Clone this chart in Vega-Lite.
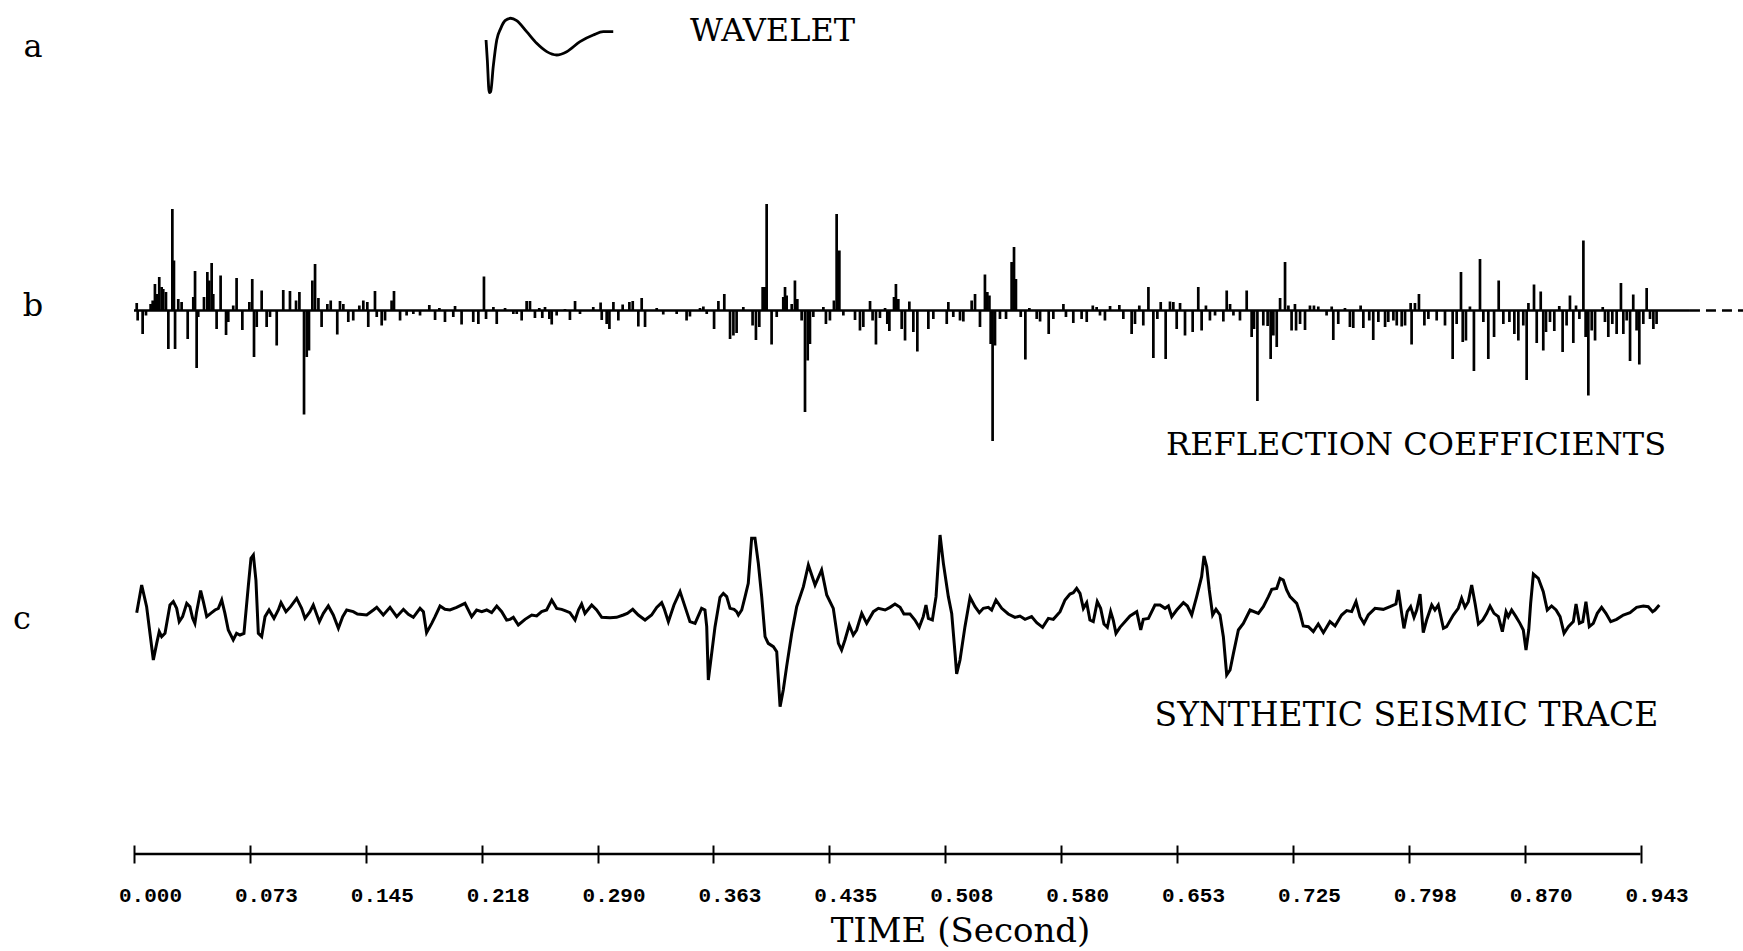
{
  "$schema": "https://vega.github.io/schema/vega-lite/v6.json",
  "width": 1743,
  "height": 951,
  "padding": 0,
  "autosize": {"type": "none"},
  "background": "white",
  "config": {"view": {"stroke": null}, "font": "DejaVu Serif"},
  "datasets": {
    "wavelet": [
      {"t": 0.2203, "w": 0}, {"t": 0.2211, "w": -0.377}, {"t": 0.2223, "w": -0.994}, {"t": 0.2232, "w": -0.975},
      {"t": 0.2248, "w": -0.503}, {"t": 0.2270, "w": 0}, {"t": 0.2295, "w": 0.22}, {"t": 0.2322, "w": 0.365},
      {"t": 0.2357, "w": 0.41}, {"t": 0.2395, "w": 0.365}, {"t": 0.2457, "w": 0.157}, {"t": 0.2520, "w": -0.063},
      {"t": 0.2583, "w": -0.22}, {"t": 0.2645, "w": -0.283}, {"t": 0.2708, "w": -0.22}, {"t": 0.2791, "w": -0.031},
      {"t": 0.2874, "w": 0.094}, {"t": 0.2937, "w": 0.157}, {"t": 0.2999, "w": 0.157}
    ],
    "wave_letter": [{"t": -0.0632, "w": -0.13, "label": "a"}],
    "wave_caption": [{"t": 0.3996, "w": 0.17, "label": "WAVELET"}],
    "refl": [
      {"t":0.0017,"r":0.015},{"t":0.0023,"r":-0.02},{"t":0.0054,"r":-0.047},{"t":0.0075,"r":-0.01},{"t":0.0104,"r":0.013},
      {"t":0.0117,"r":0.02},{"t":0.0131,"r":0.053},{"t":0.0142,"r":0.033},{"t":0.0158,"r":0.067},{"t":0.0173,"r":0.047},
      {"t":0.0183,"r":0.043},{"t":0.0200,"r":0.037},{"t":0.0215,"r":-0.077},{"t":0.0240,"r":0.203},{"t":0.0250,"r":0.1},
      {"t":0.0257,"r":-0.077},{"t":0.0277,"r":0.023},{"t":0.0298,"r":0.017},{"t":0.0336,"r":-0.057},{"t":0.0371,"r":0.027},
      {"t":0.0382,"r":0.079},{"t":0.0392,"r":-0.115},{"t":0.0402,"r":-0.013},{"t":0.0438,"r":0.027},{"t":0.0459,"r":0.077},
      {"t":0.0471,"r":0.06},{"t":0.0486,"r":0.095},{"t":0.0496,"r":0.033},{"t":0.0517,"r":-0.037},{"t":0.0542,"r":0.07},
      {"t":0.0576,"r":-0.049},{"t":0.0590,"r":-0.023},{"t":0.0621,"r":0.01},{"t":0.0642,"r":0.065},{"t":0.0678,"r":-0.039},
      {"t":0.0722,"r":0.017},{"t":0.0740,"r":0.063},{"t":0.0751,"r":-0.093},{"t":0.0768,"r":-0.033},{"t":0.0799,"r":0.04},
      {"t":0.0830,"r":-0.033},{"t":0.0851,"r":-0.013},{"t":0.0893,"r":-0.07},{"t":0.0934,"r":0.041},{"t":0.0976,"r":0.039},
      {"t":0.1014,"r":0.02},{"t":0.1035,"r":0.037},{"t":0.1064,"r":-0.208},{"t":0.1081,"r":-0.093},{"t":0.1095,"r":-0.08},
      {"t":0.1116,"r":0.06},{"t":0.1133,"r":0.093},{"t":0.1154,"r":0.025},{"t":0.1174,"r":-0.033},{"t":0.1210,"r":0.013},
      {"t":0.1231,"r":0.02},{"t":0.1272,"r":-0.048},{"t":0.1289,"r":0.019},{"t":0.1310,"r":0.013},{"t":0.1341,"r":-0.023},
      {"t":0.1372,"r":-0.02},{"t":0.1410,"r":0.01},{"t":0.1435,"r":0.02},{"t":0.1460,"r":0.017},{"t":0.1466,"r":-0.033},
      {"t":0.1508,"r":0.039},{"t":0.1519,"r":-0.013},{"t":0.1550,"r":-0.03},{"t":0.1571,"r":-0.02},{"t":0.1612,"r":0.02},
      {"t":0.1627,"r":0.039},{"t":0.1665,"r":-0.02},{"t":0.1706,"r":-0.01},{"t":0.1748,"r":-0.007},{"t":0.1790,"r":-0.01},
      {"t":0.1848,"r":0.011},{"t":0.1884,"r":-0.019},{"t":0.1911,"r":0.005},{"t":0.1946,"r":-0.023},{"t":0.1998,"r":-0.013},
      {"t":0.2009,"r":0.009},{"t":0.2050,"r":-0.028},{"t":0.2123,"r":-0.023},{"t":0.2155,"r":-0.027},{"t":0.2190,"r":0.068},
      {"t":0.2203,"r":-0.017},{"t":0.2249,"r":0.007},{"t":0.2270,"r":-0.027},{"t":0.2322,"r":0.005},{"t":0.2395,"r":-0.007},
      {"t":0.2374,"r":-0.007},{"t":0.2426,"r":-0.02},{"t":0.2457,"r":0.019},{"t":0.2478,"r":0.019},{"t":0.2509,"r":-0.015},
      {"t":0.2536,"r":0.005},{"t":0.2555,"r":-0.015},{"t":0.2572,"r":0.007},{"t":0.2599,"r":-0.017},{"t":0.2614,"r":-0.028},
      {"t":0.2645,"r":-0.01},{"t":0.2697,"r":0.003},{"t":0.2728,"r":-0.019},{"t":0.2760,"r":0.019},{"t":0.2791,"r":-0.007},
      {"t":0.2874,"r":0.007},{"t":0.2920,"r":0.016},{"t":0.2927,"r":-0.019},{"t":0.2958,"r":-0.027},{"t":0.2975,"r":-0.037},
      {"t":0.3000,"r":0.017},{"t":0.3031,"r":-0.02},{"t":0.3058,"r":0.012},{"t":0.3100,"r":0.017},{"t":0.3121,"r":0.019},
      {"t":0.3156,"r":-0.032},{"t":0.3177,"r":0.025},{"t":0.3198,"r":-0.033},{"t":0.3271,"r":0.005},{"t":0.3312,"r":-0.008},
      {"t":0.3396,"r":-0.007},{"t":0.3458,"r":-0.02},{"t":0.3479,"r":-0.012},{"t":0.3542,"r":0.005},{"t":0.3563,"r":0.008},
      {"t":0.3584,"r":-0.007},{"t":0.3630,"r":-0.037},{"t":0.3657,"r":0.019},{"t":0.3694,"r":0.033},{"t":0.3730,"r":-0.057},
      {"t":0.3751,"r":-0.05},{"t":0.3771,"r":-0.045},{"t":0.3813,"r":0.007},{"t":0.3871,"r":-0.03},{"t":0.3892,"r":-0.059},
      {"t":0.3913,"r":-0.033},{"t":0.3934,"r":0.047},{"t":0.3949,"r":0.047},{"t":0.3959,"r":0.213},{"t":0.3990,"r":-0.068},
      {"t":0.4022,"r":-0.013},{"t":0.4063,"r":0.027},{"t":0.4074,"r":0.047},{"t":0.4084,"r":0.03},{"t":0.4116,"r":0.013},
      {"t":0.4136,"r":0.06},{"t":0.4151,"r":0.023},{"t":0.4178,"r":-0.02},{"t":0.4199,"r":-0.203},{"t":0.4216,"r":-0.1},
      {"t":0.4230,"r":-0.067},{"t":0.4251,"r":-0.013},{"t":0.4314,"r":0.007},{"t":0.4330,"r":-0.027},{"t":0.4355,"r":-0.02},
      {"t":0.4380,"r":0.02},{"t":0.4397,"r":0.193},{"t":0.4414,"r":0.12},{"t":0.4439,"r":-0.01},{"t":0.4512,"r":-0.019},
      {"t":0.4543,"r":-0.04},{"t":0.4564,"r":-0.033},{"t":0.4606,"r":0.019},{"t":0.4622,"r":-0.02},{"t":0.4643,"r":-0.068},
      {"t":0.4668,"r":-0.015},{"t":0.4700,"r":0.005},{"t":0.4714,"r":-0.027},{"t":0.4727,"r":-0.041},{"t":0.4756,"r":0.027},
      {"t":0.4768,"r":0.053},{"t":0.4783,"r":0.023},
      {"t":0.4804,"r":-0.037},{"t":0.4825,"r":-0.06},{"t":0.4852,"r":0.018},{"t":0.4877,"r":-0.043},{"t":0.4902,"r":-0.082},
      {"t":0.4971,"r":-0.037},{"t":0.5002,"r":-0.017},{"t":0.5086,"r":-0.027},{"t":0.5096,"r":0.017},{"t":0.5127,"r":-0.013},
      {"t":0.5169,"r":-0.02},{"t":0.5190,"r":-0.022},{"t":0.5242,"r":0.02},{"t":0.5263,"r":0.033},{"t":0.5294,"r":-0.033},
      {"t":0.5325,"r":0.072},{"t":0.5340,"r":0.037},{"t":0.5353,"r":0.03},{"t":0.5361,"r":-0.067},{"t":0.5373,"r":-0.261},
      {"t":0.5388,"r":-0.07},{"t":0.5419,"r":-0.017},{"t":0.5457,"r":-0.017},{"t":0.5492,"r":0.097},{"t":0.5507,"r":0.127},
      {"t":0.5519,"r":0.063},{"t":0.5549,"r":-0.013},{"t":0.5578,"r":-0.098},{"t":0.5603,"r":0.005},{"t":0.5649,"r":-0.017},
      {"t":0.5670,"r":-0.022},{"t":0.5724,"r":-0.047},{"t":0.5753,"r":-0.017},{"t":0.5816,"r":0.013},{"t":0.5832,"r":-0.013},
      {"t":0.5878,"r":-0.025},{"t":0.5930,"r":-0.017},{"t":0.5962,"r":-0.023},{"t":0.6000,"r":0.01},{"t":0.6024,"r":0.007},
      {"t":0.6045,"r":-0.01},{"t":0.6076,"r":-0.02},{"t":0.6108,"r":0.009},{"t":0.6166,"r":0.011},{"t":0.6191,"r":-0.017},
      {"t":0.6243,"r":-0.047},{"t":0.6264,"r":-0.027},{"t":0.6291,"r":0.01},{"t":0.6316,"r":-0.03},{"t":0.6348,"r":0.047},
      {"t":0.6379,"r":-0.095},{"t":0.6404,"r":-0.017},{"t":0.6425,"r":0.017},{"t":0.6456,"r":-0.097},{"t":0.6483,"r":0.018},
      {"t":0.6504,"r":0.017},{"t":0.6525,"r":-0.037},{"t":0.6546,"r":0.015},{"t":0.6577,"r":-0.05},{"t":0.6625,"r":-0.043},
      {"t":0.6660,"r":0.047},{"t":0.6681,"r":-0.04},{"t":0.6708,"r":0.01},{"t":0.6733,"r":-0.02},{"t":0.6765,"r":-0.01},
      {"t":0.6817,"r":-0.022},{"t":0.6838,"r":0.04},{"t":0.6859,"r":0.013},{"t":0.6880,"r":-0.01},{"t":0.6921,"r":-0.02},
      {"t":0.6963,"r":0.04},{"t":0.6994,"r":-0.053},{"t":0.7009,"r":-0.037},{"t":0.7030,"r":-0.181},{"t":0.7067,"r":-0.03},
      {"t":0.7094,"r":-0.031},{"t":0.7113,"r":-0.097},{"t":0.7130,"r":-0.05},{"t":0.7151,"r":-0.073},{"t":0.7172,"r":0.025},
      {"t":0.7203,"r":0.097},{"t":0.7224,"r":0.01},
      {"t":0.7244,"r":-0.04},{"t":0.7265,"r":0.013},{"t":0.7272,"r":-0.04},{"t":0.7297,"r":-0.027},{"t":0.7328,"r":-0.039},
      {"t":0.7359,"r":0.01},{"t":0.7384,"r":0.01},{"t":0.7411,"r":0.008},{"t":0.7463,"r":-0.01},{"t":0.7495,"r":0.008},
      {"t":0.7505,"r":-0.059},{"t":0.7536,"r":-0.027},{"t":0.7578,"r":0.005},{"t":0.7609,"r":-0.033},{"t":0.7630,"r":-0.035},
      {"t":0.7676,"r":0.01},{"t":0.7693,"r":-0.035},{"t":0.7730,"r":-0.02},{"t":0.7755,"r":-0.059},{"t":0.7787,"r":-0.023},
      {"t":0.7829,"r":-0.033},{"t":0.7849,"r":-0.023},{"t":0.7881,"r":-0.02},{"t":0.7902,"r":-0.03},{"t":0.7933,"r":-0.032},
      {"t":0.7954,"r":-0.03},{"t":0.7989,"r":0.015},{"t":0.7995,"r":-0.068},{"t":0.8016,"r":0.015},{"t":0.8041,"r":0.033},
      {"t":0.8075,"r":-0.03},{"t":0.8100,"r":-0.017},{"t":0.8152,"r":-0.02},{"t":0.8204,"r":-0.03},{"t":0.8252,"r":-0.097},
      {"t":0.8277,"r":-0.027},{"t":0.8304,"r":0.077},{"t":0.8315,"r":-0.063},{"t":0.8335,"r":-0.06},{"t":0.8360,"r":0.008},
      {"t":0.8385,"r":-0.121},{"t":0.8423,"r":0.103},{"t":0.8444,"r":-0.023},{"t":0.8475,"r":-0.097},{"t":0.8511,"r":-0.053},
      {"t":0.8540,"r":0.06},{"t":0.8569,"r":-0.027},{"t":0.8607,"r":-0.023},{"t":0.8638,"r":-0.047},{"t":0.8663,"r":-0.06},
      {"t":0.8694,"r":-0.03},{"t":0.8715,"r":-0.139},{"t":0.8726,"r":0.015},{"t":0.8761,"r":0.052},{"t":0.8778,"r":-0.065},
      {"t":0.8803,"r":0.038},{"t":0.8819,"r":-0.08},{"t":0.8836,"r":-0.043},{"t":0.8861,"r":-0.023},{"t":0.8888,"r":-0.041},
      {"t":0.8919,"r":0.009},{"t":0.8940,"r":-0.083},{"t":0.8965,"r":-0.03},{"t":0.8986,"r":0.03},{"t":0.9007,"r":-0.065},
      {"t":0.9024,"r":0.01},{"t":0.9045,"r":-0.017},{"t":0.9070,"r":0.14},{"t":0.9084,"r":-0.053},{"t":0.9101,"r":-0.17},
      {"t":0.9122,"r":-0.04},{"t":0.9143,"r":-0.06},{"t":0.9191,"r":0.007},{"t":0.9205,"r":-0.023},{"t":0.9226,"r":-0.053},
      {"t":0.9251,"r":-0.027},{"t":0.9278,"r":-0.047},{"t":0.9305,"r":0.055},{"t":0.9320,"r":-0.047},{"t":0.9341,"r":-0.02},
      {"t":0.9362,"r":-0.101},{"t":0.9382,"r":0.032},{"t":0.9403,"r":-0.04},{"t":0.9420,"r":-0.108},{"t":0.9445,"r":-0.027},
      {"t":0.9466,"r":0.045},{"t":0.9487,"r":-0.017},{"t":0.9508,"r":-0.037},{"t":0.9528,"r":-0.027}
    ],
    "refl_base": [{"t": 0, "t2": 0.9737}],
    "refl_tail": [{"t": 0.9737, "t2": 1.0069}],
    "refl_letter": [{"t": -0.0632, "r": 0.009, "label": "b"}],
    "refl_caption": [{"t": 0.8023, "r": -0.268, "label": "REFLECTION COEFFICIENTS"}],
    "trace": [
      {"t":0.0017,"a":0.0047},{"t":0.0048,"a":0.06},{"t":0.0079,"a":0.0167},{"t":0.0121,"a":-0.09},{"t":0.0142,"a":-0.0567},
      {"t":0.0158,"a":-0.0333},{"t":0.0173,"a":-0.0433},{"t":0.0194,"a":-0.0367},{"t":0.0225,"a":0.02},{"t":0.0246,"a":0.0267},
      {"t":0.0267,"a":0.0133},{"t":0.0283,"a":-0.0133},{"t":0.0304,"a":-0.0033},{"t":0.0330,"a":0.0233},{"t":0.0350,"a":0.0167},
      {"t":0.0367,"a":-0.0067},{"t":0.0381,"a":-0.0167},{"t":0.0392,"a":0.0067},{"t":0.0417,"a":0.0487},{"t":0.0434,"a":0.0267},
      {"t":0.0455,"a":-0.0033},{"t":0.0480,"a":0.0033},{"t":0.0507,"a":0.01},{"t":0.0528,"a":0.0133},{"t":0.0549,"a":0.03},
      {"t":0.0569,"a":0.0033},{"t":0.0590,"a":-0.03},{"t":0.0621,"a":-0.05},{"t":0.0642,"a":-0.0367},{"t":0.0663,"a":-0.04},
      {"t":0.0688,"a":-0.0367},{"t":0.0715,"a":0.0567},{"t":0.0732,"a":0.1133},{"t":0.0747,"a":0.12},{"t":0.0763,"a":0.07},
      {"t":0.0778,"a":-0.0367},{"t":0.0799,"a":-0.0433},{"t":0.0820,"a":-0.0033},{"t":0.0845,"a":0.01},{"t":0.0876,"a":-0.0067},
      {"t":0.0903,"a":0.01},{"t":0.0920,"a":0.0247},{"t":0.0951,"a":0.0067},{"t":0.0980,"a":0.0167},{"t":0.1018,"a":0.0333},
      {"t":0.1049,"a":0.0133},{"t":0.1070,"a":-0.0067},{"t":0.1101,"a":0.0067},{"t":0.1122,"a":0.02},{"t":0.1160,"a":-0.0133},
      {"t":0.1185,"a":0.0033},{"t":0.1216,"a":0.018},{"t":0.1247,"a":0},{"t":0.1279,"a":-0.0267},{"t":0.1306,"a":-0.0033},
      {"t":0.1331,"a":0.01},{"t":0.1372,"a":0.0067},{"t":0.1398,"a":0.002},{"t":0.1456,"a":0},{"t":0.1498,"a":0.01},
      {"t":0.1519,"a":0.0153},{"t":0.1560,"a":0},{"t":0.1602,"a":0.0153},{"t":0.1644,"a":-0.0033},{"t":0.1686,"a":0.0113},
      {"t":0.1717,"a":0.0013},{"t":0.1748,"a":-0.0047},{"t":0.1790,"a":0.0133},{"t":0.1811,"a":0.0067},{"t":0.1831,"a":-0.0353},
      {"t":0.1863,"a":-0.0167},{"t":0.1884,"a":-0.0033},{"t":0.1915,"a":0.018},{"t":0.1946,"a":0.0113},{"t":0.1977,"a":0.01},
      {"t":0.2019,"a":0.0153},{"t":0.2071,"a":0.0233},{"t":0.2113,"a":-0.0033},{"t":0.2144,"a":0.01},{"t":0.2176,"a":0.0067},
      {"t":0.2207,"a":0.01},{"t":0.2238,"a":0.0047},{"t":0.2270,"a":0.018},{"t":0.2301,"a":0.0067},{"t":0.2332,"a":-0.01},
      {"t":0.2353,"a":-0.0087},{"t":0.2374,"a":-0.0047},{"t":0.2405,"a":-0.02},{"t":0.2447,"a":-0.0087},{"t":0.2489,"a":0},
      {"t":0.2520,"a":-0.002},{"t":0.2551,"a":0.0067},{"t":0.2582,"a":0.01},{"t":0.2614,"a":0.03},{"t":0.2645,"a":0.0133},
      {"t":0.2676,"a":0.0113},{"t":0.2697,"a":0.0087},{"t":0.2728,"a":0.0047},{"t":0.2760,"a":-0.01},{"t":0.2781,"a":0.01},
      {"t":0.2801,"a":0.022},{"t":0.2822,"a":0.0033},{"t":0.2864,"a":0.02},{"t":0.2895,"a":0.01},{"t":0.2927,"a":-0.0047},
      {"t":0.2979,"a":-0.0053},{"t":0.3020,"a":-0.0047},{"t":0.3062,"a":0},{"t":0.3087,"a":0.0033},{"t":0.3121,"a":0.0113},
      {"t":0.3156,"a":0},{"t":0.3198,"a":-0.01},{"t":0.3239,"a":0},{"t":0.3271,"a":0.0153},{"t":0.3302,"a":0.0247},
      {"t":0.3317,"a":0.0133},{"t":0.3344,"a":-0.0133},{"t":0.3379,"a":0.02},{"t":0.3417,"a":0.0467},{"t":0.3448,"a":0.0167},
      {"t":0.3479,"a":-0.0133},{"t":0.3511,"a":-0.0167},{"t":0.3552,"a":0.0133},{"t":0.3573,"a":0.01},{"t":0.3584,"a":-0.0233},
      {"t":0.3594,"a":-0.13},{"t":0.3615,"a":-0.0767},{"t":0.3636,"a":-0.0233},{"t":0.3667,"a":0.0353},{"t":0.3688,"a":0.0433},
      {"t":0.3709,"a":0.0367},{"t":0.3730,"a":0.0133},{"t":0.3755,"a":0.0113},{"t":0.3771,"a":0.0067},{"t":0.3782,"a":0},
      {"t":0.3803,"a":0.01},{"t":0.3824,"a":0.0367},{"t":0.3844,"a":0.0633},{"t":0.3865,"a":0.1533},{"t":0.3886,"a":0.1533},
      {"t":0.3907,"a":0.1033},{"t":0.3928,"a":0.0367},{"t":0.3949,"a":-0.0433},{"t":0.3969,"a":-0.0567},{"t":0.4001,"a":-0.0633},
      {"t":0.4022,"a":-0.0733},{"t":0.4043,"a":-0.1833},{"t":0.4063,"a":-0.15},{"t":0.4084,"a":-0.1033},{"t":0.4116,"a":-0.0367},
      {"t":0.4147,"a":0.0167},{"t":0.4189,"a":0.0567},{"t":0.4220,"a":0.1},{"t":0.4262,"a":0.06},{"t":0.4303,"a":0.09},
      {"t":0.4335,"a":0.04},{"t":0.4376,"a":0.0133},{"t":0.4408,"a":-0.0567},{"t":0.4428,"a":-0.07},{"t":0.4449,"a":-0.05},
      {"t":0.4476,"a":-0.02},{"t":0.4501,"a":-0.04},{"t":0.4522,"a":-0.03},{"t":0.4554,"a":0.0033},{"t":0.4585,"a":-0.0167},
      {"t":0.4627,"a":0.0067},{"t":0.4658,"a":0.0133},{"t":0.4700,"a":0.01},{"t":0.4731,"a":0.0153},{"t":0.4762,"a":0.022},
      {"t":0.4794,"a":0.0153},{"t":0.4818,"a":0.002},{"t":0.4856,"a":0.002},{"t":0.4887,"a":-0.01},{"t":0.4914,"a":-0.0247},
      {"t":0.4939,"a":-0.0033},{"t":0.4956,"a":0.02},{"t":0.4971,"a":-0.0067},{"t":0.4996,"a":-0.01},{"t":0.5019,"a":0.0367},
      {"t":0.5044,"a":0.16},{"t":0.5065,"a":0.1033},{"t":0.5096,"a":0.0367},{"t":0.5117,"a":0.0033},{"t":0.5138,"a":-0.0767},
      {"t":0.5148,"a":-0.118},{"t":0.5169,"a":-0.09},{"t":0.5200,"a":-0.0233},{"t":0.5232,"a":0.0353},{"t":0.5263,"a":0.0167},
      {"t":0.5290,"a":0.0047},{"t":0.5315,"a":0.0133},{"t":0.5346,"a":0.0153},{"t":0.5367,"a":0.01},{"t":0.5394,"a":0.03},
      {"t":0.5430,"a":0.0133},{"t":0.5471,"a":0.002},{"t":0.5513,"a":-0.0047},{"t":0.5544,"a":-0.002},{"t":0.5576,"a":-0.0087},
      {"t":0.5617,"a":-0.0033},{"t":0.5649,"a":-0.0153},{"t":0.5686,"a":-0.0247},{"t":0.5722,"a":-0.0067},{"t":0.5753,"a":-0.0087},
      {"t":0.5795,"a":0.0067},{"t":0.5826,"a":0.03},{"t":0.5857,"a":0.042},{"t":0.5878,"a":0.0447},{"t":0.5899,"a":0.0533},
      {"t":0.5920,"a":0.0433},{"t":0.5941,"a":0.0133},{"t":0.5962,"a":0.0247},{"t":0.5982,"a":-0.01},{"t":0.6003,"a":-0.0133},
      {"t":0.6028,"a":0.0267},{"t":0.6049,"a":0.0133},{"t":0.6070,"a":-0.018},{"t":0.6091,"a":-0.0247},{"t":0.6112,"a":0.0067},
      {"t":0.6128,"a":-0.01},{"t":0.6145,"a":-0.0367},{"t":0.6170,"a":-0.0247},{"t":0.6233,"a":-0.002},{"t":0.6275,"a":0.0067},
      {"t":0.6300,"a":-0.03},{"t":0.6316,"a":-0.0087},{"t":0.6348,"a":-0.0067},{"t":0.6389,"a":0.02},{"t":0.6421,"a":0.02},
      {"t":0.6452,"a":0.0133},{"t":0.6473,"a":0.018},{"t":0.6494,"a":-0.0033},{"t":0.6525,"a":0.01},{"t":0.6567,"a":0.0247},
      {"t":0.6592,"a":0.018},{"t":0.6619,"a":0},{"t":0.6650,"a":0.0367},{"t":0.6681,"a":0.0767},{"t":0.6696,"a":0.118},
      {"t":0.6713,"a":0.0967},{"t":0.6729,"a":0.05},{"t":0.6750,"a":0},{"t":0.6771,"a":0.0113},{"t":0.6796,"a":0},
      {"t":0.6817,"a":-0.0433},{"t":0.6838,"a":-0.12},{"t":0.6859,"a":-0.11},{"t":0.6880,"a":-0.0767},{"t":0.6911,"a":-0.03},
      {"t":0.6942,"a":-0.0167},{"t":0.6984,"a":0.01},{"t":0.7036,"a":0.0033},{"t":0.7067,"a":0.0167},{"t":0.7099,"a":0.0367},
      {"t":0.7120,"a":0.0513},{"t":0.7151,"a":0.0533},{"t":0.7172,"a":0.0733},{"t":0.7192,"a":0.07},{"t":0.7213,"a":0.05},
      {"t":0.7234,"a":0.0367},{"t":0.7276,"a":0.0233},{"t":0.7297,"a":0.0033},{"t":0.7317,"a":-0.022},{"t":0.7349,"a":-0.0233},
      {"t":0.7380,"a":-0.0333},{"t":0.7411,"a":-0.018},{"t":0.7443,"a":-0.0353},{"t":0.7484,"a":-0.0133},{"t":0.7516,"a":-0.022},
      {"t":0.7557,"a":0},{"t":0.7589,"a":0.0087},{"t":0.7620,"a":0.0067},{"t":0.7647,"a":0.0267},{"t":0.7672,"a":-0.0033},
      {"t":0.7697,"a":-0.0167},{"t":0.7724,"a":0},{"t":0.7766,"a":0.0133},{"t":0.7818,"a":0.0113},{"t":0.7860,"a":0.0167},
      {"t":0.7897,"a":0.022},{"t":0.7912,"a":0.05},{"t":0.7933,"a":0.0033},{"t":0.7947,"a":-0.0267},{"t":0.7968,"a":0.0067},
      {"t":0.7989,"a":0.0167},{"t":0.8010,"a":-0.0047},{"t":0.8027,"a":0.01},{"t":0.8048,"a":0.042},{"t":0.8068,"a":-0.0353},
      {"t":0.8089,"a":-0.01},{"t":0.8121,"a":0.02},{"t":0.8141,"a":0.01},{"t":0.8162,"a":0.02},{"t":0.8194,"a":-0.0267},
      {"t":0.8214,"a":-0.0233},{"t":0.8256,"a":0},{"t":0.8287,"a":0.0133},{"t":0.8308,"a":0.0333},{"t":0.8329,"a":0.0153},
      {"t":0.8350,"a":0.0267},{"t":0.8371,"a":0.06},{"t":0.8392,"a":0.0233},{"t":0.8413,"a":-0.018},{"t":0.8440,"a":-0.01},
      {"t":0.8465,"a":0.0033},{"t":0.8486,"a":0.018},{"t":0.8511,"a":0.0033},{"t":0.8538,"a":-0.0033},{"t":0.8563,"a":-0.0333},
      {"t":0.8586,"a":0.0067},{"t":0.8600,"a":-0.0033},{"t":0.8621,"a":0.01},{"t":0.8648,"a":-0.0033},{"t":0.8673,"a":-0.0167},
      {"t":0.8694,"a":-0.03},{"t":0.8711,"a":-0.07},{"t":0.8728,"a":-0.03},{"t":0.8740,"a":0.0233},{"t":0.8757,"a":0.082},
      {"t":0.8788,"a":0.0733},{"t":0.8819,"a":0.0467},{"t":0.8844,"a":0.01},{"t":0.8871,"a":0.018},{"t":0.8899,"a":0.01},
      {"t":0.8924,"a":-0.0033},{"t":0.8949,"a":-0.0367},{"t":0.8976,"a":-0.0233},{"t":0.9007,"a":-0.0133},{"t":0.9024,"a":0.022},
      {"t":0.9045,"a":-0.0167},{"t":0.9066,"a":-0.0133},{"t":0.9086,"a":0.0267},{"t":0.9107,"a":-0.0233},{"t":0.9132,"a":-0.0167},
      {"t":0.9157,"a":0.0033},{"t":0.9184,"a":0.0153},{"t":0.9211,"a":0.0033},{"t":0.9241,"a":-0.0133},{"t":0.9278,"a":-0.0087},
      {"t":0.9320,"a":0},{"t":0.9362,"a":0.0047},{"t":0.9403,"a":0.0153},{"t":0.9445,"a":0.018},{"t":0.9476,"a":0.0167},
      {"t":0.9503,"a":0.0067},{"t":0.9518,"a":0.01},{"t":0.9545,"a":0.02}
    ],
    "time_axis": [{"t": 0, "t2": 0.9428}],
    "trace_letter": [{"t": -0.0701, "a": -0.008, "label": "c"}],
    "trace_caption": [{"t": 0.7963, "a": -0.202, "label": "SYNTHETIC SEISMIC TRACE"}]
  },
  "encoding": {
    "x": {
      "field": "t",
      "type": "quantitative",
      "scale": {"domain": [-0.083855, 1.006884], "nice": false, "zero": false},
      "axis": {
        "values": [0, 0.072523, 0.145046, 0.217569, 0.290092, 0.362615, 0.435138, 0.507661, 0.580185, 0.652708, 0.725231, 0.797754, 0.870277, 0.9428],
        "format": ".3f",
        "domain": false,
        "grid": false,
        "offset": -106,
        "tickSize": 18,
        "tickWidth": 2,
        "tickColor": "black",
        "labelFont": "Liberation Mono",
        "labelFontWeight": "bold",
        "labelFontSize": 21,
        "labelColor": "black",
        "labelPadding": 32,
        "labelBaseline": "middle",
        "labelOffset": 16,
        "labelFlush": false,
        "labelOverlap": false,
        "title": "TIME (Second)",
        "titleFont": "DejaVu Serif",
        "titleFontSize": 34,
        "titleFontWeight": "normal",
        "titleColor": "black",
        "titleX": 960,
        "titleY": 86,
        "titleBaseline": "middle",
        "titleAlign": "center"
      }
    }
  },
  "resolve": {"scale": {"y": "independent"}},
  "layer": [
    {
      "layer": [
        {
          "data": {"name": "wavelet"},
          "mark": {"type": "line", "color": "black", "strokeWidth": 2.8, "interpolate": "monotone"},
          "encoding": {"y": {"field": "w", "type": "quantitative", "scale": {"domain": [-17.189, 0.7547], "nice": false, "zero": false}, "axis": null}}
        },
        {
          "data": {"name": "wave_letter"},
          "mark": {"type": "text", "font": "DejaVu Serif", "fontSize": 32, "color": "black", "align": "center", "baseline": "middle"},
          "encoding": {"y": {"field": "w", "type": "quantitative", "axis": null}, "text": {"field": "label"}}
        },
        {
          "data": {"name": "wave_caption"},
          "mark": {"type": "text", "font": "DejaVu Serif", "fontSize": 32, "color": "black", "align": "center", "baseline": "middle"},
          "encoding": {"y": {"field": "w", "type": "quantitative", "axis": null}, "text": {"field": "label"}}
        }
      ]
    },
    {
      "layer": [
        {
          "data": {"name": "refl"},
          "mark": {"type": "rule", "color": "black", "strokeWidth": 2.7},
          "encoding": {
            "y": {"field": "r", "type": "quantitative", "scale": {"domain": [-1.281, 0.621], "nice": false, "zero": false}, "axis": null},
            "y2": {"datum": 0}
          }
        },
        {
          "data": {"name": "refl_base"},
          "mark": {"type": "rule", "color": "black", "strokeWidth": 2.5},
          "encoding": {"x2": {"field": "t2"}, "y": {"datum": 0, "axis": null}}
        },
        {
          "data": {"name": "refl_tail"},
          "mark": {"type": "rule", "color": "black", "strokeWidth": 2.5, "strokeDash": [10, 6]},
          "encoding": {"x2": {"field": "t2"}, "y": {"datum": 0, "axis": null}}
        },
        {
          "data": {"name": "refl_letter"},
          "mark": {"type": "text", "font": "DejaVu Serif", "fontSize": 32, "color": "black", "align": "center", "baseline": "middle"},
          "encoding": {"y": {"field": "r", "type": "quantitative", "axis": null}, "text": {"field": "label"}}
        },
        {
          "data": {"name": "refl_caption"},
          "mark": {"type": "text", "font": "DejaVu Serif", "fontSize": 32, "color": "black", "align": "center", "baseline": "middle"},
          "encoding": {"y": {"field": "r", "type": "quantitative", "axis": null}, "text": {"field": "label"}}
        }
      ]
    },
    {
      "layer": [
        {
          "data": {"name": "trace"},
          "mark": {"type": "line", "color": "black", "strokeWidth": 3},
          "encoding": {"y": {"field": "a", "type": "quantitative", "scale": {"domain": [-0.672, 1.23], "nice": false, "zero": false}, "axis": null}}
        },
        {
          "data": {"name": "time_axis"},
          "mark": {"type": "rule", "color": "black", "strokeWidth": 2.5},
          "encoding": {"x2": {"field": "t2"}, "y": {"datum": -0.478, "axis": null}}
        },
        {
          "data": {"name": "trace_letter"},
          "mark": {"type": "text", "font": "DejaVu Serif", "fontSize": 32, "color": "black", "align": "center", "baseline": "middle"},
          "encoding": {"y": {"field": "a", "type": "quantitative", "axis": null}, "text": {"field": "label"}}
        },
        {
          "data": {"name": "trace_caption"},
          "mark": {"type": "text", "font": "DejaVu Serif", "fontSize": 33, "color": "black", "align": "center", "baseline": "middle"},
          "encoding": {"y": {"field": "a", "type": "quantitative", "axis": null}, "text": {"field": "label"}}
        }
      ]
    }
  ]
}
